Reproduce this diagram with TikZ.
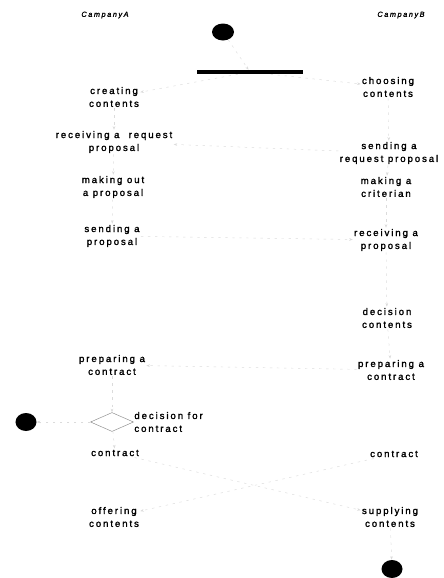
\documentclass[tikz,border=0pt]{standalone}
\usepackage{fontspec}
\setmainfont{Liberation Sans}
\newfontfamily\actfont[LetterSpace=20,FakeBold=1.8]{Liberation Sans}
\newfontfamily\lanefont[LetterSpace=22,FakeBold=1.5]{Liberation Sans}
\usetikzlibrary{shapes.geometric,arrows.meta,positioning}
\tikzset{
  activity/.style={font=\actfont\fontsize{8.2}{11}\selectfont,align=center,inner sep=1pt},
  lanename/.style={font=\lanefont\itshape\fontsize{6.2}{8}\selectfont,inner sep=0pt},
  blob/.style={ellipse,fill=black,draw=none,inner sep=0pt},
  syncbar/.style={rectangle,fill=black,inner sep=0pt,minimum width=3.15cm,minimum height=0.12cm},
  choice/.style={diamond,draw=black!45,thin,inner sep=0pt,minimum width=1.29cm,minimum height=0.57cm},
  flow/.style={->,>={Stealth[length=3pt]},draw=black!14,thin,dash pattern=on 2pt off 4pt},
}
\begin{document}
\begin{tikzpicture}[x=0.03cm,y=-0.03cm]
\useasboundingbox (0,0) rectangle (444,578);

% lanes
\node[lanename] (laneA) at (105,15) {CampanyA};
\node[lanename] (laneB) at (401,15) {CampanyB};

% start and fork
\node[blob,minimum width=0.66cm,minimum height=0.51cm] (start) at (223,32) {};
\node[syncbar] (fork) at (250,72) {};

% company A
\node[activity] (create) at (114,97) {creating\\contents};
\node[activity] (recvreq) at (114,142) {receiving a\ \ request\\proposal};
\node[activity] (makeout) at (113,187) {making out\\a proposal};
\node[activity] (sendprop) at (112,236) {sending a\\proposal};
\node[activity] (prepA) at (112,365) {preparing a\\contract};
\node[choice] (decide) at (112,422) {};
\node[activity,anchor=west,align=left] (decidelbl) at (133,422) {decision for\\contract};
\node[blob,minimum width=0.63cm,minimum height=0.54cm] (endA) at (26,422) {};
\node[activity] (contractA) at (115,453) {contract};
\node[activity] (offer) at (114,517) {offering\\contents};

% company B
\node[activity] (choose) at (388,87) {choosing\\contents};
\node[activity] (sendreq) at (389,153) {sending a\\request proposal};
\node[activity] (criterion) at (386,187) {making a\\criterian};
\node[activity] (recvprop) at (386,240) {receiving a\\proposal};
\node[activity] (decideB) at (387,318) {decision\\contents};
\node[activity] (prepB) at (391,370) {preparing a\\contract};
\node[activity] (contractB) at (394,454) {contract};
\node[activity] (supply) at (390,517) {supplying\\contents};
\node[blob,minimum width=0.63cm,minimum height=0.54cm] (endB) at (392,569) {};

% flows (faded)
\draw[flow] (start) -- (fork);
\draw[flow] (fork) -- (create);
\draw[flow] (fork) -- (choose);
\draw[flow] (choose) -- (sendreq);
\draw[flow] (sendreq) -- (recvreq);
\draw[flow] (create) -- (recvreq);
\draw[flow] (recvreq) -- (makeout);
\draw[flow] (makeout) -- (sendprop);
\draw[flow] (sendreq) -- (criterion);
\draw[flow] (sendprop) -- (recvprop);
\draw[flow] (criterion) -- (recvprop);
\draw[flow] (recvprop) -- (decideB);
\draw[flow] (decideB) -- (prepB);
\draw[flow] (prepB) -- (prepA);
\draw[flow] (prepA) -- (decide);
\draw[flow] (decide) -- (endA);
\draw[flow] (decide) -- (contractA);
\draw[flow] (contractA) -- (supply);
\draw[flow] (contractB) -- (offer);
\draw[flow] (supply) -- (endB);
\end{tikzpicture}
\end{document}
